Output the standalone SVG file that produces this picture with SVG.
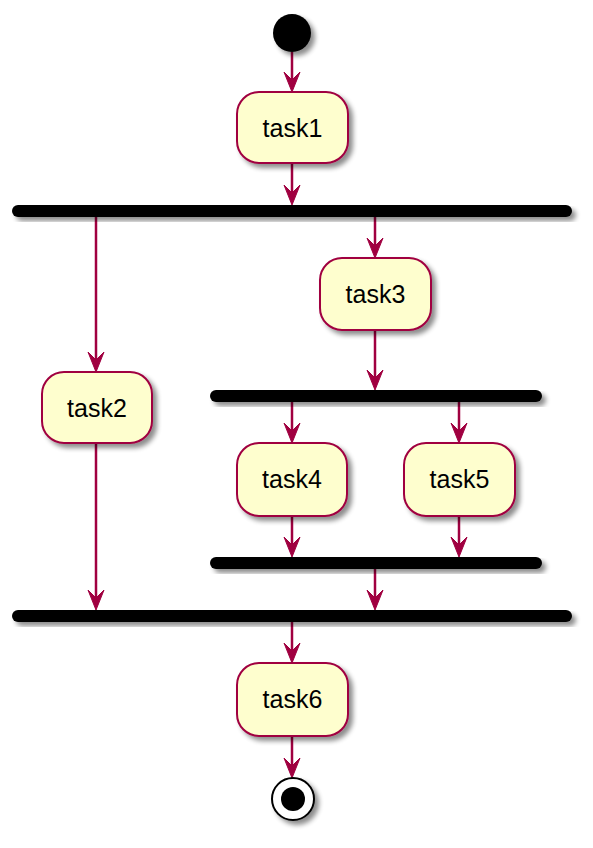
<svg xmlns="http://www.w3.org/2000/svg" width="593" height="848" viewBox="0 0 593 848">
<defs>
<filter id="sh" x="-20%" y="-20%" width="150%" height="160%">
<feGaussianBlur in="SourceAlpha" stdDeviation="2.5"/>
<feOffset dx="4" dy="4" result="b"/>
<feComponentTransfer><feFuncA type="linear" slope="0.45"/></feComponentTransfer>
<feMerge><feMergeNode/><feMergeNode in="SourceGraphic"/></feMerge>
</filter>
</defs>
<style>
.box{fill:#FEFECE;stroke:#A00040;stroke-width:2;}
.bar{fill:#000;}
.lbl{font-family:"Liberation Sans",Arial,sans-serif;font-size:25px;fill:#000;text-anchor:middle;}
.ln{stroke:#A00040;stroke-width:2.5;fill:none;}
.hd{fill:#A00040;stroke:#A00040;stroke-width:1;}
</style>
<g id="connectors">
<line class="ln" x1="292" y1="52" x2="292" y2="88"/><polygon class="hd" points="284,72 292,92 300,72 292,80"/>
<line class="ln" x1="292" y1="163" x2="292" y2="201"/><polygon class="hd" points="284,185 292,205 300,185 292,193"/>
<line class="ln" x1="96" y1="217" x2="96" y2="368"/><polygon class="hd" points="88,352 96,372 104,352 96,360"/>
<line class="ln" x1="375" y1="217" x2="375" y2="254"/><polygon class="hd" points="367,238 375,258 383,238 375,246"/>
<line class="ln" x1="375" y1="330" x2="375" y2="386"/><polygon class="hd" points="367,370 375,390 383,370 375,378"/>
<line class="ln" x1="292" y1="402" x2="292" y2="439"/><polygon class="hd" points="284,423 292,443 300,423 292,431"/>
<line class="ln" x1="459" y1="402" x2="459" y2="439"/><polygon class="hd" points="451,423 459,443 467,423 459,431"/>
<line class="ln" x1="292" y1="516" x2="292" y2="553"/><polygon class="hd" points="284,537 292,557 300,537 292,545"/>
<line class="ln" x1="459" y1="516" x2="459" y2="553"/><polygon class="hd" points="451,537 459,557 467,537 459,545"/>
<line class="ln" x1="375" y1="569" x2="375" y2="606"/><polygon class="hd" points="367,590 375,610 383,590 375,598"/>
<line class="ln" x1="96" y1="443" x2="96" y2="606"/><polygon class="hd" points="88,590 96,610 104,590 96,598"/>
<line class="ln" x1="292" y1="622" x2="292" y2="659"/><polygon class="hd" points="284,643 292,663 300,643 292,651"/>
<line class="ln" x1="292" y1="736" x2="292" y2="774"/><polygon class="hd" points="284,758 292,778 300,758 292,766"/>
</g>
<g id="start"><circle cx="292" cy="33" r="19" fill="#000" filter="url(#sh)"/></g>
<g id="task1"><rect class="box" x="237" y="92" width="111" height="71" rx="22" filter="url(#sh)"/><text class="lbl" x="292.5" y="137">task1</text></g>
<g id="fork1"><rect class="bar" x="12" y="205" width="560" height="12" rx="6" filter="url(#sh)"/></g>
<g id="task2"><rect class="box" x="42" y="372" width="110" height="71" rx="22" filter="url(#sh)"/><text class="lbl" x="97" y="417">task2</text></g>
<g id="task3"><rect class="box" x="320" y="258" width="111" height="72" rx="22" filter="url(#sh)"/><text class="lbl" x="375.5" y="303">task3</text></g>
<g id="fork2"><rect class="bar" x="210" y="390" width="332" height="12" rx="6" filter="url(#sh)"/></g>
<g id="task4"><rect class="box" x="237" y="443" width="110" height="73" rx="22" filter="url(#sh)"/><text class="lbl" x="292" y="488">task4</text></g>
<g id="task5"><rect class="box" x="404" y="443" width="111" height="73" rx="22" filter="url(#sh)"/><text class="lbl" x="459.5" y="488">task5</text></g>
<g id="join2"><rect class="bar" x="210" y="557" width="332" height="12" rx="6" filter="url(#sh)"/></g>
<g id="join1"><rect class="bar" x="12" y="610" width="560" height="12" rx="6" filter="url(#sh)"/></g>
<g id="task6"><rect class="box" x="237" y="663" width="111" height="73" rx="22" filter="url(#sh)"/><text class="lbl" x="292.5" y="708">task6</text></g>
<g id="end"><circle cx="293" cy="799" r="21" fill="#fff" stroke="#000" stroke-width="2" filter="url(#sh)"/><circle cx="293" cy="799" r="12" fill="#000"/></g>
</svg>
